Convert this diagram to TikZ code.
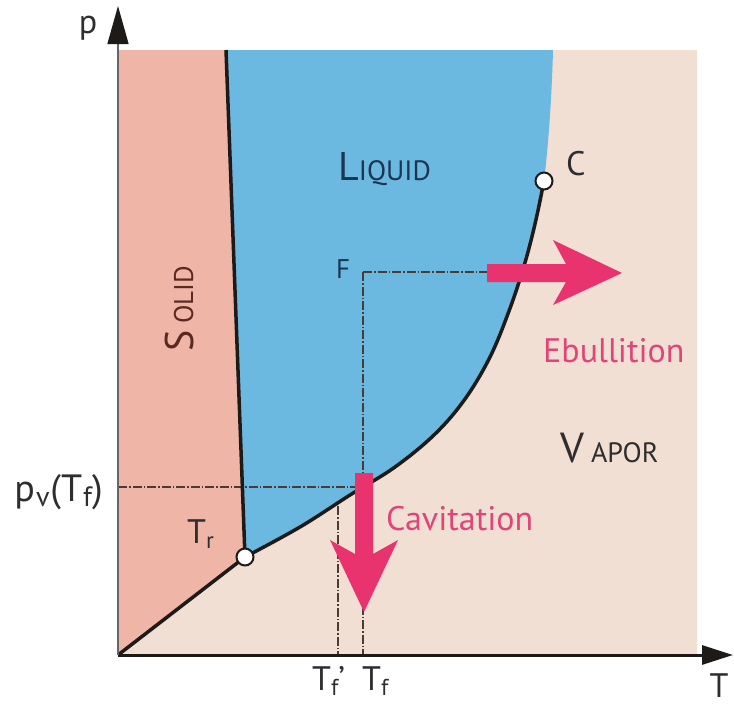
\documentclass[tikz,border=0pt]{standalone}
\usepackage{fontspec}
\setmainfont{PT Sans}
\usetikzlibrary{arrows.meta}
\definecolor{solidc}{HTML}{EFB6A8}
\definecolor{liqc}{HTML}{6BB8E1}
\definecolor{vapc}{HTML}{F2DFD3}
\definecolor{magc}{HTML}{E8336F}
\definecolor{magt}{HTML}{E0457A}
\definecolor{linec}{HTML}{1E1A18}
\definecolor{guidec}{HTML}{4A3C34}
\definecolor{labc}{HTML}{2E2E2E}
\definecolor{liqtext}{HTML}{1C3550}
\definecolor{soltext}{HTML}{5A2A22}
\newcommand\mysub[1]{\raisebox{-0.35ex}{\fontsize{23}{25}\selectfont #1}}
\newcommand\mysubb[1]{\raisebox{-0.3ex}{\fontsize{28}{30}\selectfont #1}}
\newcommand\bigfs{\fontsize{34}{36}\selectfont}
\begin{document}
\begin{tikzpicture}[x=1pt,y=-1pt,
  bound/.style={line width=3.5pt, linec},
  guide/.style={line width=1.6pt, guidec, dash pattern=on 9pt off 2pt on 1.5pt off 2pt},
  pt/.style={circle, draw=linec, fill=white, line width=2pt, minimum size=17pt, inner sep=0pt},
  lab/.style={inner sep=0pt, text=labc, font=\bigfs},
  bigarrow/.style={fill=magc, draw=none},
  proc/.style={inner sep=0pt, text=magt, font=\bigfs}]
\useasboundingbox (0,0) rectangle (734,705);
% key coordinates
\coordinate (O) at (118,655);
\coordinate (TL) at (118,50);
\coordinate (BR) at (697,655);
\coordinate (Mtop) at (226,50);
\coordinate (Btop) at (553,50);
\coordinate (Trp) at (245,557);
\coordinate (Cp) at (544,181);
\coordinate (F) at (363,272);
% regions
\fill[vapc] (TL) rectangle (BR);
\fill[solidc] (TL) -- (Mtop) -- (Trp) -- (O) -- cycle;
\fill[liqc] (Mtop) -- (Trp) -- plot[smooth, tension=0.6] coordinates {(245,557) (300,527) (350,495) (395,467) (435,434) (465,399) (490,357) (509,311) (524,266) (535,224) (544,181)} .. controls (549,140) and (552,90) .. (Btop) -- cycle;
% guide lines
\coordinate (pvL) at (118,487);
\coordinate (pvR) at (363,487);
\coordinate (Fr) at (490,272);
\coordinate (Tfb) at (363,655);
\coordinate (Tfpt) at (338,506);
\coordinate (Tfpb) at (338,655);
\draw[guide] (pvL) -- (pvR);
\draw[guide] (F) -- (Fr);
\draw[guide] (F) -- (Tfb);
\draw[guide] (Tfpt) -- (Tfpb);
% phase boundaries
\draw[bound] (O) -- (Trp);
\draw[bound] (Mtop) -- (Trp);
\draw[bound] plot[smooth, tension=0.6] coordinates {(245,557) (300,527) (350,495) (395,467) (435,434) (465,399) (490,357) (509,311) (524,266) (535,224) (544,181)};
% axes
\coordinate (Xend) at (733,655);
\coordinate (Yend) at (118,6);
\draw[line width=3pt, linec, -{Triangle[length=31pt,width=19pt]}] (O) -- (Xend);
\draw[line width=1.5pt, gray!80!black, -{Triangle[length=38pt,width=21pt,color=linec]}] (O) -- (Yend);
% special points
\node[pt] (Tr) at (Trp) {};
\node[pt] (C) at (Cp) {};
% process arrows
\fill[bigarrow] (355,473) -- (373,473) -- (373,554) -- (398,540) -- (364,612) -- (330,540) -- (355,554) -- cycle;
\fill[bigarrow] (487,264) -- (487,282) -- (566,282) -- (553,305) -- (622,273) -- (553,240) -- (566,264) -- cycle;
% labels
\node[lab, anchor=base] (plab) at (88,33) {p};
\node[lab, anchor=base] (Tlab) at (719,697) {T};
\node[lab, anchor=base west] (Tfplab) at (312,690) {T\mysub{f}'};
\node[lab, anchor=base west] (Tflab) at (362,690) {T\mysub{f}};
\node[inner sep=0pt, text=labc, anchor=base east] (pvlab) at (103,501) {\fontsize{38}{40}\selectfont p\kern1pt\mysubb{v}\kern1pt(T\kern1pt\mysubb{f})};
\node[lab, anchor=base west] (Trlab) at (187,543) {T\mysub{r}};
\node[lab, anchor=base west] (Clab) at (566,175) {C};
\node[lab, anchor=base west, font=\fontsize{27}{29}\selectfont, text=liqtext] (Flab) at (336,278) {F};
\node[inner sep=0pt, anchor=base west, text=liqtext] (liq) at (338,180) {\fontsize{40}{42}\selectfont L\fontsize{28}{30}\selectfont IQUID};
\node[inner sep=0pt, anchor=base west, text=labc] (vap) at (560,462) {\fontsize{42}{44}\selectfont V\,\fontsize{28}{30}\selectfont APOR};
\node[inner sep=0pt, anchor=base west, rotate=90, text=soltext] (sol) at (193,352) {\fontsize{40}{42}\selectfont S\,\fontsize{27}{29}\selectfont OLID};
\node[proc, anchor=base west] (ebu) at (543,362) {Ebullition};
\node[proc, anchor=base west] (cav) at (386,530) {Cavitation};
\end{tikzpicture}
\end{document}
